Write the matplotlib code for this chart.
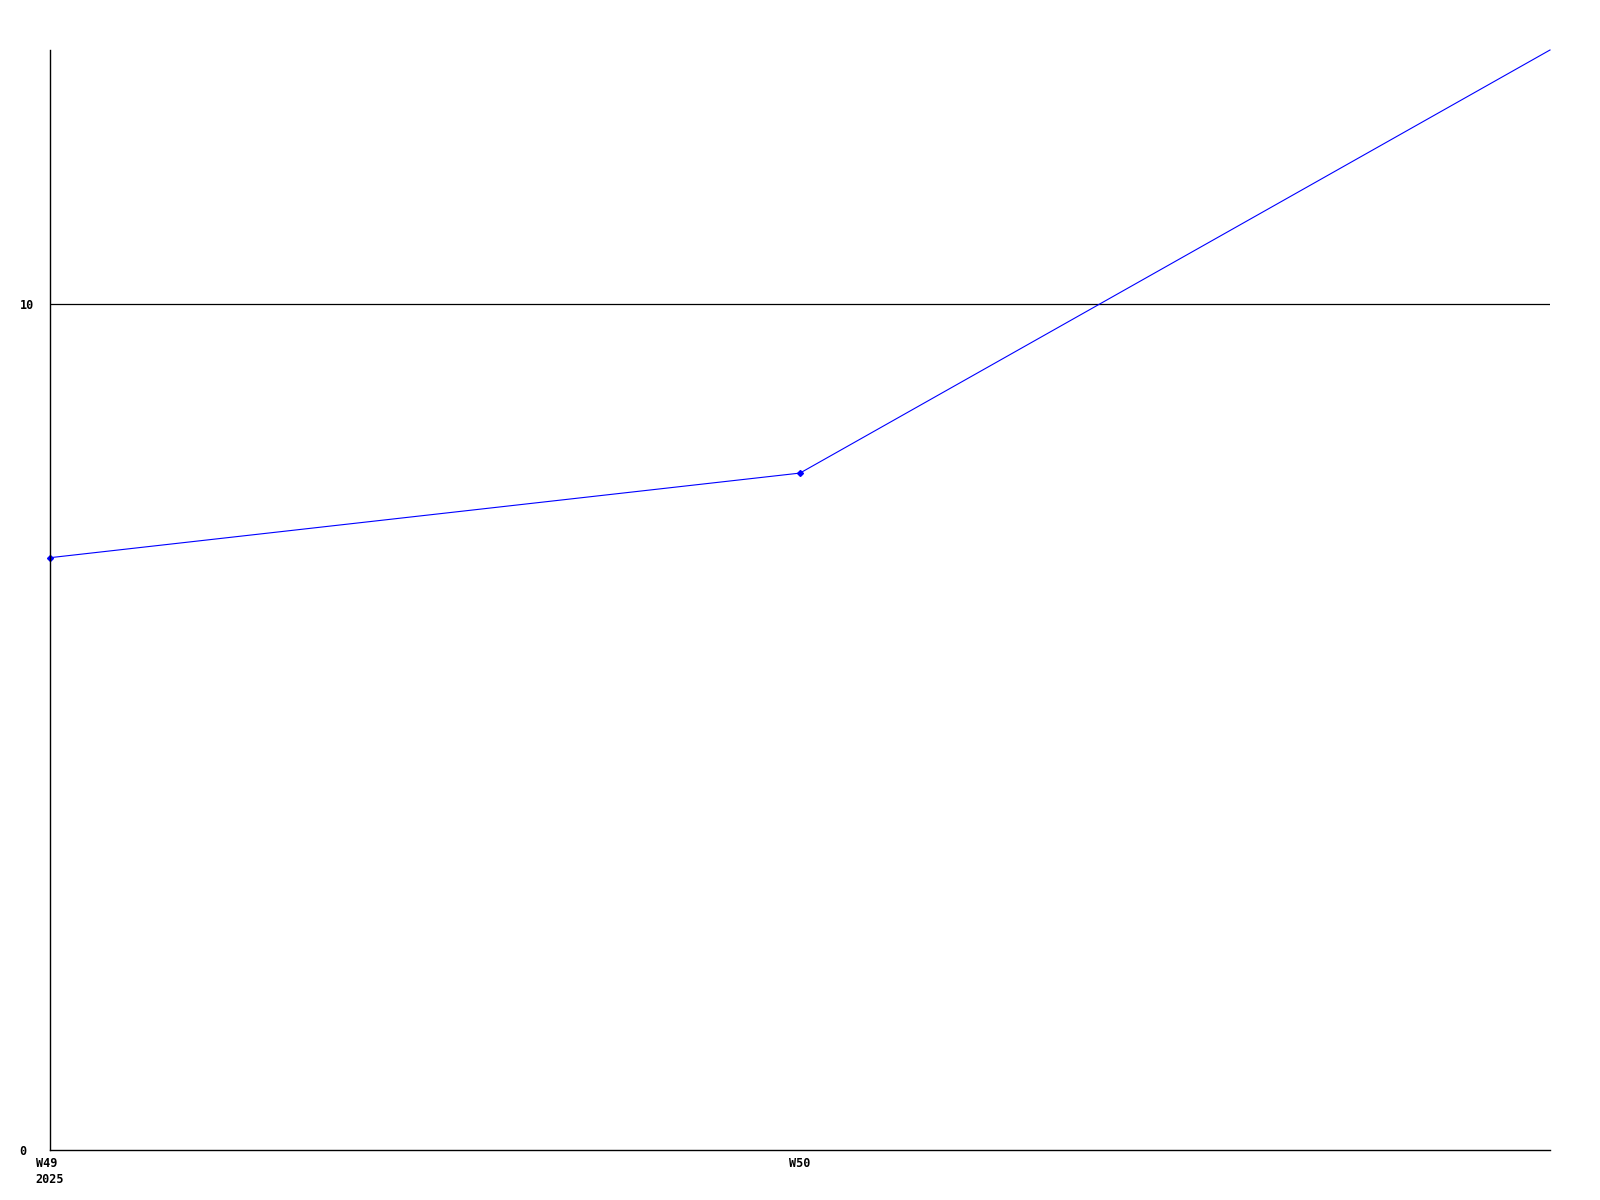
import matplotlib.pyplot as plt

# weekly values
weeks = [0, 1, 2]
values = [7, 8, 13]
tick_pos = [0, 1]
tick_labels = ["W49\n2025", "W50"]
y_ticks = [0, 10]

FONT = dict(family="DejaVu Sans Mono", fontweight="bold", fontsize=8.5)

fig = plt.figure(figsize=(16, 12), dpi=100)
ax = fig.add_axes([50 / 1600, 50 / 1200, 1500 / 1600, 1100 / 1200])

ax.plot(weeks, values, color="#0000ff", linewidth=0.8, marker="D", markersize=3,
        markevery=[0, 1], clip_on=False)

ax.set_xlim(0, 2)
ax.set_ylim(0, 13)
ax.axhline(10, color="black", linewidth=0.9, zorder=0)

ax.set_xticks(tick_pos)
ax.set_xticklabels(tick_labels, multialignment="left", linespacing=1.3, **FONT)
ax.set_yticks(y_ticks)
ax.set_yticklabels([str(v) for v in y_ticks], ha="left", **FONT)
ax.tick_params(axis="y", length=0, pad=22)
ax.tick_params(axis="x", length=0, pad=5)

ax.spines[["top", "right"]].set_visible(False)
for s in ("left", "bottom"):
    ax.spines[s].set_linewidth(1)

fig.savefig("out.png", dpi=100)
